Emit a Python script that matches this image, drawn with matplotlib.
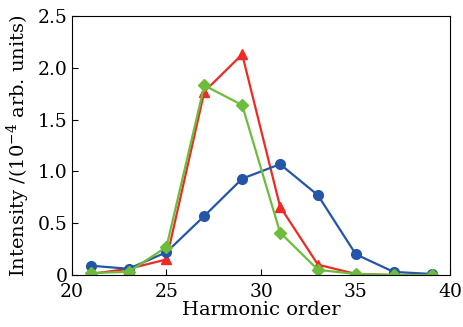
import numpy as np
import matplotlib.pyplot as plt
from matplotlib.ticker import FuncFormatter

plt.rcParams['font.family'] = ['DejaVu Serif']
plt.rcParams['mathtext.fontset'] = 'dejavuserif'

orders = [21, 23, 25, 27, 29, 31, 33, 35, 37, 39]
blue_vals = [0.09, 0.06, 0.22, 0.57, 0.93, 1.07, 0.77, 0.20, 0.03, 0.01]
red_vals = [0.01, 0.06, 0.15, 1.77, 2.13, 0.66, 0.10, 0.01, 0.0, 0.0]
green_vals = [0.02, 0.03, 0.27, 1.83, 1.64, 0.41, 0.05, 0.01, 0.0, 0.0]

fig = plt.figure(figsize=(4.63, 3.27), dpi=100)
ax = fig.add_axes([0.155, 0.159, 0.818, 0.792])

# red below, green on top
ax.plot(orders, red_vals, '-^', color='#ee2a24', lw=1.6, ms=7)
ax.plot(orders, blue_vals, '-o', color='#2456a8', lw=1.6, ms=7)
ax.plot(orders, green_vals, '-D', color='#6cbd3c', lw=1.6, ms=6)

ax.set_xlim(20, 40)
ax.set_ylim(0, 2.5)
ax.set_xticks([20, 25, 30, 35, 40])
ax.set_yticks([0, 0.5, 1.0, 1.5, 2.0, 2.5])
ax.yaxis.set_major_formatter(FuncFormatter(lambda v, p: '0' if v == 0 else f'{v:.1f}'))
ax.tick_params(direction='in', labelsize=13.5, length=4, width=0.8)
ax.tick_params(axis='x', pad=6)
ax.tick_params(axis='y', pad=3)
ax.set_xlabel('Harmonic order', fontsize=14, labelpad=0)
ax.set_ylabel('Intensity /(10$^{-4}$ arb. units)', fontsize=14, labelpad=4)

fig.savefig('out.png', dpi=100)
